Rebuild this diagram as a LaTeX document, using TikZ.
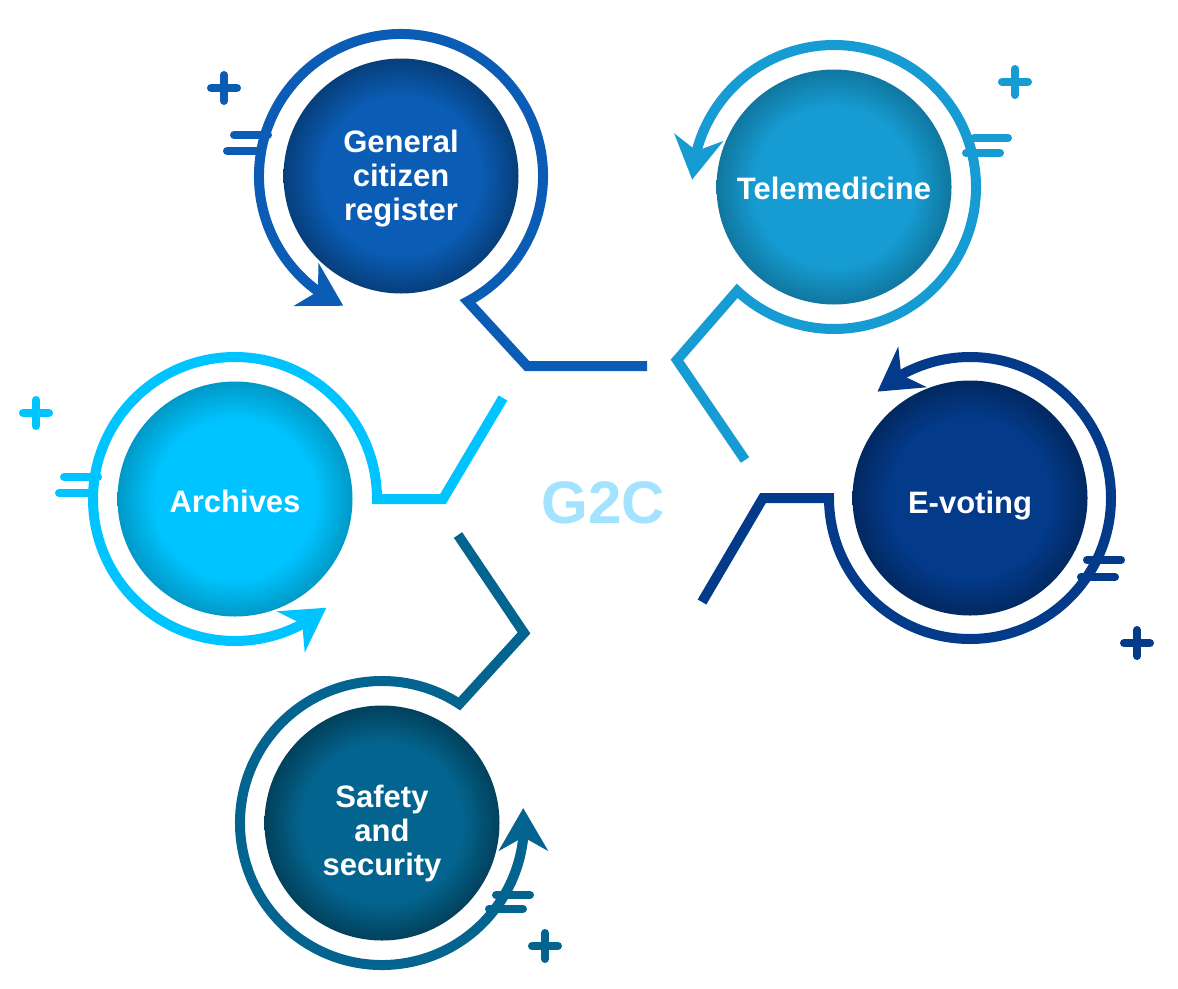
\documentclass[tikz,border=0pt]{standalone}
\usepackage{fontspec}
\setmainfont{Liberation Sans}
\usepackage{tikz}
\usetikzlibrary{arrows.meta, bending, calc}

\definecolor{cGen}{HTML}{0A5CB4}
\definecolor{cTele}{HTML}{169CD2}
\definecolor{cArch}{HTML}{00C4FF}
\definecolor{cEvo}{HTML}{033A8A}
\definecolor{cSaf}{HTML}{03658F}
\definecolor{cHub}{HTML}{A3E3FF}

% ball shadings, darker towards the rim
\pgfdeclareradialshading{ballGen}{\pgfpointorigin}{color(0bp)=(cGen); color(17bp)=(cGen); color(25bp)=(cGen!68!black); color(50bp)=(cGen!68!black)}
\pgfdeclareradialshading{ballTele}{\pgfpointorigin}{color(0bp)=(cTele); color(17bp)=(cTele); color(25bp)=(cTele!76!black); color(50bp)=(cTele!76!black)}
\pgfdeclareradialshading{ballArch}{\pgfpointorigin}{color(0bp)=(cArch); color(17bp)=(cArch); color(25bp)=(cArch!78!black); color(50bp)=(cArch!78!black)}
\pgfdeclareradialshading{ballEvo}{\pgfpointorigin}{color(0bp)=(cEvo); color(17bp)=(cEvo); color(25bp)=(cEvo!70!black); color(50bp)=(cEvo!70!black)}
\pgfdeclareradialshading{ballSaf}{\pgfpointorigin}{color(0bp)=(cSaf); color(17bp)=(cSaf); color(25bp)=(cSaf!64!black); color(50bp)=(cSaf!64!black)}

% text lowered inside its ball, ball size kept
\newcommand\shifttext[2]{\raisebox{-#1}[\height][\depth]{\begin{tabular}{@{}c@{}}#2\end{tabular}}}

\begin{document}
\begin{tikzpicture}[
    x=1pt, y=-1pt,
    font=\bfseries\fontsize{31}{34}\selectfont,
    ball/.style={circle, minimum size=235pt, inner sep=0pt, text=white, align=center},
    ringline/.style={line width=10pt, -{Stealth[length=43pt, width=50pt, inset=14pt, line width=0pt 0]}},
    sym/.style={line width=8pt, line cap=round}
  ]

  \fill[white] (0,0) rectangle (1178,988);
  \useasboundingbox (0,0) rectangle (1178,988);

  % Balls
  \node[ball, shading=ballGen] (gen) at (401,176) {\shifttext{4pt}{General\\citizen\\register}};
  \node[ball, shading=ballTele] (tele) at (834,187) {\shifttext{6pt}{Telemedicine}};
  \node[ball, shading=ballArch] (arch) at (235,499) {\shifttext{7pt}{Archives}};
  \node[ball, shading=ballEvo] (evo) at (970,498) {\shifttext{9pt}{E-voting}};
  \node[ball, shading=ballSaf] (saf) at (382,823) {\shifttext{12pt}{Safety\\and\\security}};

  % Centre label
  \node[font=\bfseries\fontsize{60}{60}\selectfont, text=cHub] (hub) at (603,503) {G2C};

  % Bends and free ends of the connectors
  \coordinate (genBend) at (527,366);
  \coordinate (genEnd) at (647,366);
  \coordinate (teleBend) at (677,360);
  \coordinate (teleEnd) at (745,460);
  \coordinate (archBend) at (443,499);
  \coordinate (archEnd) at (503,398);
  \coordinate (evoBend) at (763,498);
  \coordinate (evoEnd) at (702,602);
  \coordinate (safBend) at (524,633);
  \coordinate (safEnd) at (458,535);

  % Rings with connectors
  \draw[ringline, draw=cGen] (genEnd) -- (genBend) -- ($(gen)+(62:142)$) arc[start angle=62, end angle=-246, radius=142];
  \draw[ringline, draw=cTele] (teleEnd) -- (teleBend) -- ($(tele)+(133:142)$) arc[start angle=133, end angle=-177, radius=142];
  \draw[ringline, draw=cArch] (archEnd) -- (archBend) -- ($(arch)+(0:142)$) arc[start angle=0, end angle=-310, radius=142];
  \draw[ringline, draw=cEvo] (evoEnd) -- (evoBend) -- ($(evo)+(180:141)$) arc[start angle=180, end angle=-131, radius=141];
  \draw[ringline, draw=cSaf] (safEnd) -- (safBend) -- ($(saf)+(-57:142)$) arc[start angle=-57, end angle=-366, radius=142];

  % Plus signs
  \foreach \px/\py/\c in {224/88/cGen, 1015/82/cTele, 36/413/cArch, 1137/643/cEvo, 545/946/cSaf}
    \draw[sym, draw=\c] (\px-13,\py) -- (\px+13,\py) (\px,\py-13) -- (\px,\py+13);

  % Equals signs
  \foreach \ax/\ay/\bx/\by/\c in {234/135/227/151/cGen, 974/138/966/153/cTele, 64/477/59/493/cArch, 1087/560/1081/577/cEvo, 496/895/489/909/cSaf}
    \draw[sym, draw=\c] (\ax,\ay) -- ++(34,0) (\bx,\by) -- ++(34,0);

\end{tikzpicture}
\end{document}
